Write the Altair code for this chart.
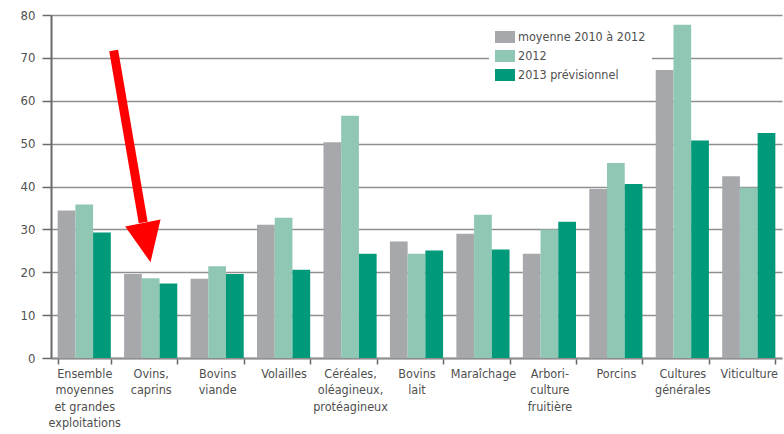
import altair as alt
import pandas as pd

categories = [
    "Ensemble|moyennes|et grandes|exploitations",
    "Ovins,|caprins",
    "Bovins|viande",
    "Volailles",
    "Céréales,|oléagineux,|protéagineux",
    "Bovins|lait",
    "Maraîchage",
    "Arbori-|culture|fruitière",
    "Porcins",
    "Cultures|générales",
    "Viticulture",
]
series = ["moyenne 2010 à 2012", "2012", "2013 prévisionnel"]
moyenne = [34.4, 19.6, 18.5, 31.1, 50.3, 27.2, 29.0, 24.3, 39.4, 67.2, 42.4]
v2012 = [35.8, 18.6, 21.4, 32.7, 56.5, 24.3, 33.4, 30.0, 45.5, 77.7, 39.7]
v2013 = [29.3, 17.4, 19.6, 20.6, 24.3, 25.1, 25.3, 31.8, 40.6, 50.7, 52.5]
colors = ["#a7a8ab", "#8fc7b4", "#00997a"]

# red arrow annotation pointing at "Ovins, caprins"
arrow_cat = ["Ovins,|caprins"]
arrow_tail = [71.7]
arrow_base = [31.6]
arrow_head = [26.9]

rows = []
for s, vals in zip(series, [moyenne, v2012, v2013]):
    for c, v in zip(categories, vals):
        rows.append({"cat": c, "serie": s, "val": v})
df = pd.DataFrame(rows)
arrow_df = pd.DataFrame({"cat": arrow_cat, "y1": arrow_tail, "y2": arrow_base, "yh": arrow_head})

FONT = "DejaVu Sans Condensed, sans-serif"
TXT = "#4f4f4f"

x_enc = alt.X(
    "cat:N",
    sort=categories,
    scale=alt.Scale(paddingInner=0.2, paddingOuter=0.1),
    axis=alt.Axis(
        title=None,
        labelAngle=0,
        labelExpr="split(datum.label, '|')",
        labelBaseline="top",
        labelAlign="center",
        labelLineHeight=16.5,
        labelFontSize=12.5,
        labelFont=FONT,
        labelColor=TXT,
        labelPadding=3,
        tickBand="extent",
        tickSize=6,
        tickColor="#666666",
        tickWidth=1.5,
        domainColor="#8f8f8f",
        domainWidth=2,
        grid=False,
    ),
)

bars = alt.Chart(df).mark_bar(opacity=1).encode(
    x=x_enc,
    xOffset=alt.XOffset("serie:N", sort=series, scale=alt.Scale(paddingInner=0, paddingOuter=0)),
    y=alt.Y(
        "val:Q",
        scale=alt.Scale(domain=[0, 80], nice=False),
        axis=alt.Axis(
            title=None,
            values=list(range(0, 81, 10)),
            grid=True,
            gridColor="#8f8f8f",
            gridWidth=1.5,
            domainColor="#6a6a6a",
            domainWidth=2,
            tickColor="#6a6a6a",
            tickWidth=1.5,
            tickSize=9,
            labelPadding=7,
            labelFontSize=13,
            labelFont=FONT,
            labelColor=TXT,
        ),
    ),
    color=alt.Color(
        "serie:N",
        sort=series,
        scale=alt.Scale(domain=series, range=colors),
        legend=alt.Legend(
            title=None,
            orient="none",
            legendX=438,
            legendY=6,
            fillColor="white",
            padding=6,
            symbolType="M-1,-0.6L1,-0.6L1,0.6L-1,0.6Z",
            symbolSize=400,
            symbolStrokeWidth=0,
            symbolOpacity=1,
            labelFont=FONT,
            labelFontSize=12.5,
            labelColor=TXT,
            labelOffset=3,
            rowPadding=2,
        ),
    ),
)

rule = alt.Chart(arrow_df).mark_rule(
    color="#ff0000", strokeWidth=9, xOffset=-37, x2Offset=-7.5
).encode(
    x=alt.X("cat:N", sort=categories),
    x2="cat:N",
    y="y1:Q",
    y2="y2:Q",
)

head = alt.Chart(arrow_df).mark_point(
    shape="M-0.9,-1L0.9,-1L0,1Z",
    size=1600,
    filled=True,
    opacity=1,
    color="#ff0000",
    strokeWidth=0,
    angle=349,
    xOffset=-4,
).encode(
    x=alt.X("cat:N", sort=categories),
    y="yh:Q",
)

chart = (
    alt.layer(bars, rule, head)
    .properties(
        width=731,
        height=343,
        autosize=alt.AutoSizeParams(type="none"),
        padding={"left": 51, "top": 15, "right": 2, "bottom": 76},
        background="white",
    )
    .configure_view(stroke=None)
)

chart.save("out.html", embed_options={"renderer": "svg", "actions": False})
